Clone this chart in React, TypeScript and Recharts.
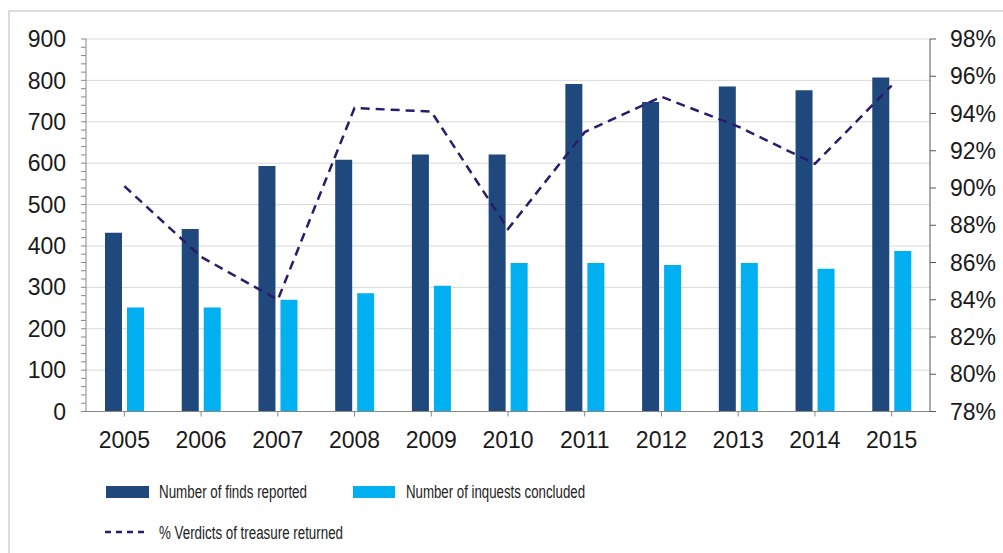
import { ComposedChart, Bar, Line, XAxis, YAxis, CartesianGrid, Legend } from 'recharts';

const years = ['2005', '2006', '2007', '2008', '2009', '2010', '2011', '2012', '2013', '2014', '2015'];
const findsReported = [432, 441, 593, 608, 621, 621, 791, 748, 785, 776, 807];
const inquestsConcluded = [251, 251, 270, 286, 304, 359, 359, 354, 359, 345, 388];
const verdictsPct = [90.1, 86.3, 84.0, 94.3, 94.1, 87.8, 93.0, 94.9, 93.3, 91.3, 95.5];

const leftMajorTicks = [0, 100, 200, 300, 400, 500, 600, 700, 800, 900];
const rightTicks = [78, 80, 82, 84, 86, 88, 90, 92, 94, 96, 98];

const seriesNames = ['Number of finds reported', 'Number of inquests concluded', '% Verdicts of treasure returned'];

const DARK = '#1f497d';
const LIGHT = '#00b0f0';
const LINE = '#2b1b6c';
const FONT = '"Liberation Sans", Arial, sans-serif';

// minor ticks every 20 on the left axis, labels only on the hundreds
const leftAllTicks = Array.from({ length: 46 }, (_, i) => i * 20);

const data = years.map((year, i) => ({
  year,
  finds: findsReported[i],
  inquests: inquestsConcluded[i],
  verdicts: verdictsPct[i],
}));

const renderLegend = () => (
  <svg width={993} height={100} style={{ display: 'block' }}>
    <g fontFamily={FONT} fontSize={18} fill="#222">
      <rect x={96} y={33} width={43} height={12} fill={DARK} />
      <text x={149} y={45} textLength={148} lengthAdjust="spacingAndGlyphs">{seriesNames[0]}</text>
      <rect x={343} y={33} width={42} height={12} fill={LIGHT} />
      <text x={396} y={45} textLength={179} lengthAdjust="spacingAndGlyphs">{seriesNames[1]}</text>
      <line x1={95} y1={79} x2={135} y2={79} stroke={LINE} strokeWidth={2.5} strokeDasharray="6 5" />
      <text x={149} y={86} textLength={184} lengthAdjust="spacingAndGlyphs">{seriesNames[2]}</text>
    </g>
  </svg>
);

export default function App() {
  const tickStyle = { fontSize: 23, fill: '#1a1a1a', fontFamily: FONT };
  return (
    <div>
      <style>{'html,body{overflow:hidden;margin:0}'}</style>
      <div
        style={{
          position: 'absolute',
          left: 8,
          top: 10,
          width: 995,
          height: 543,
          borderTop: '2px solid #dcdcdc',
          borderLeft: '2px solid #dcdcdc',
          boxSizing: 'border-box',
          background: '#fff',
        }}
      >
        <ComposedChart
          width={993}
          height={541}
          data={data}
          margin={{ top: 27, right: 0, bottom: 0, left: 0 }}
          barSize={17}
          barGap={5}
        >
          <CartesianGrid
            yAxisId="left"
            vertical={false}
            stroke="#d9d9d9"
            horizontalValues={leftMajorTicks}
          />
          <XAxis
            dataKey="year"
            height={41.5}
            tickSize={5}
            tickMargin={15}
            stroke="#888"
            tick={tickStyle}
            interval={0}
          />
          <YAxis
            yAxisId="left"
            width={76}
            domain={[0, 900]}
            ticks={leftAllTicks}
            interval={0}
            tickSize={5}
            tickMargin={15}
            stroke="#888"
            tick={tickStyle}
            tickFormatter={(v: number) => (v % 100 === 0 ? String(v) : '')}
          />
          <YAxis
            yAxisId="right"
            orientation="right"
            width={73}
            domain={[78, 98]}
            ticks={rightTicks}
            interval={0}
            tickSize={6}
            tickMargin={14}
            stroke="#555"
            tick={tickStyle}
            tickFormatter={(v: number) => `${v}%`}
          />
          <Legend verticalAlign="bottom" content={renderLegend} />
          <Bar yAxisId="left" dataKey="finds" name={seriesNames[0]} fill={DARK} isAnimationActive={false} />
          <Bar yAxisId="left" dataKey="inquests" name={seriesNames[1]} fill={LIGHT} isAnimationActive={false} />
          <Line
            yAxisId="right"
            type="linear"
            dataKey="verdicts"
            name={seriesNames[2]}
            stroke={LINE}
            strokeWidth={2.5}
            strokeDasharray="9 6"
            dot={false}
            activeDot={false}
            isAnimationActive={false}
          />
        </ComposedChart>
      </div>
    </div>
  );
}
